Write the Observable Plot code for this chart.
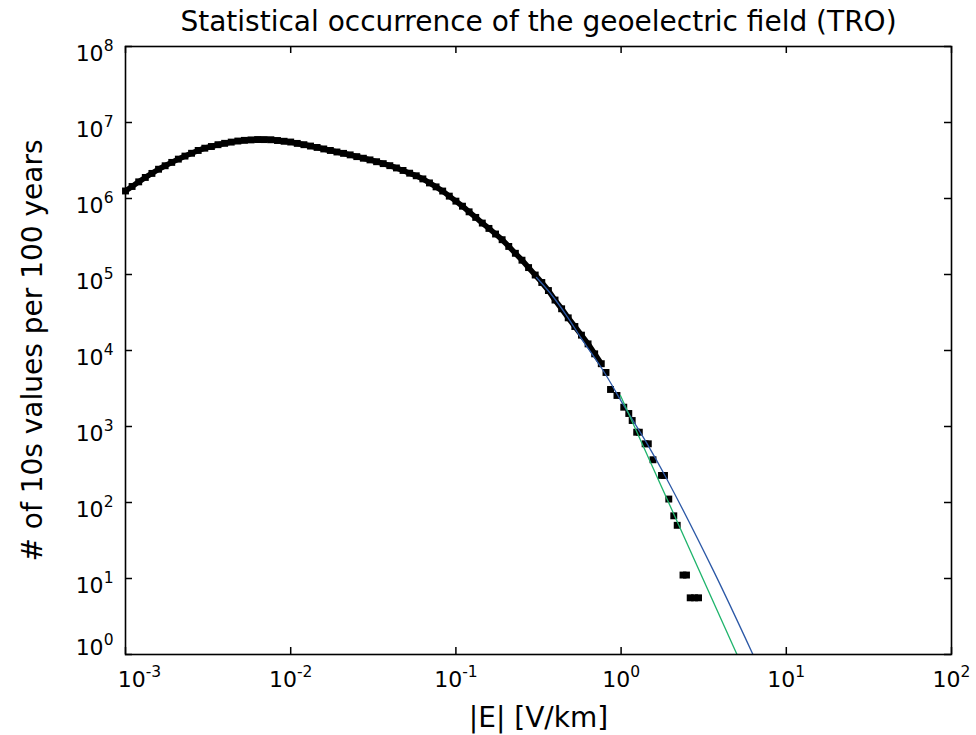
<!DOCTYPE html>
<html><head><meta charset="utf-8">
<script src="https://cdn.jsdelivr.net/npm/d3@7"></script>
<script src="https://cdn.jsdelivr.net/npm/@observablehq/plot@0.6"></script>
<style>html,body{margin:0;padding:0;background:#fff;}</style>
</head><body><div id="chart"></div>
<script>
// Histogram of |E| (V/km) -> number of 10 s values per 100 years
const E = [
  0.001, 0.001096, 0.001202, 0.001318, 0.001445, 0.001585, 0.001738, 0.001905, 0.002089, 0.002291, 0.002512, 0.002754, 0.003020, 0.003311, 0.003631, 0.003981, 0.004365, 0.004786, 0.005248, 0.005754, 0.006310, 0.006918, 0.007586, 0.008318, 0.009120,
  0.01, 0.01096, 0.01202, 0.01318, 0.01445, 0.01585, 0.01738, 0.01905, 0.02089, 0.02291, 0.02512, 0.02754, 0.03020, 0.03311, 0.03631, 0.03981, 0.04365, 0.04786, 0.05248, 0.05754, 0.06310, 0.06918, 0.07586, 0.08318, 0.09120,
  0.1, 0.1096, 0.1202, 0.1318, 0.1445, 0.1585, 0.1738, 0.1905, 0.2089, 0.2291, 0.2512, 0.2754, 0.3020, 0.3311, 0.3631, 0.3981, 0.4365, 0.4786, 0.5248, 0.5754, 0.6310, 0.6918, 0.7586,
  0.810, 0.863, 0.944, 1.038, 1.113, 1.167, 1.243, 1.289, 1.398, 1.461, 1.560, 1.756, 1.831, 1.944, 2.084, 2.186, 2.370, 2.488, 2.620, 2.782, 2.942
];
const N = [
  1.256e6, 1.439e6, 1.656e6, 1.892e6, 2.138e6, 2.427e6, 2.698e6, 2.985e6, 3.296e6, 3.614e6, 3.936e6, 4.285e6, 4.592e6, 4.831e6, 5.105e6, 5.321e6, 5.521e6, 5.702e6, 5.821e6, 5.902e6, 5.970e6, 5.957e6, 5.929e6, 5.794e6, 5.662e6,
  5.534e6, 5.309e6, 5.105e6, 4.898e6, 4.699e6, 4.487e6, 4.285e6, 4.093e6, 3.926e6, 3.750e6, 3.556e6, 3.388e6, 3.221e6, 3.048e6, 2.877e6, 2.704e6, 2.523e6, 2.339e6, 2.153e6, 1.991e6, 1.811e6, 1.603e6, 1.422e6, 1.253e6, 1.074e6,
  9.23e5, 7.92e5, 6.68e5, 5.64e5, 4.75e5, 4.04e5, 3.41e5, 2.87e5, 2.34e5, 1.901e5, 1.542e5, 1.233e5, 9.84e4, 7.85e4, 6.15e4, 4.61e4, 3.54e4, 2.69e4, 2.07e4, 1.592e4, 1.222e4, 9.04e3, 6.70e3,
  5140, 3070, 2560, 1795, 1483, 1199, 841, 841, 592, 592, 365, 227, 227, 111, 66.8, 50.1, 11.1, 11.1, 5.57, 5.57, 5.57
];
// fitted curves
const blueE = [0.3076, 0.3741, 0.4721, 0.5675, 0.7852, 1.038, 1.439, 1.884, 3.639, 6.281];
const blueN = [9.14e4, 5.62e4, 2.80e4, 1.496e4, 5290, 1890, 592, 207, 12.4, 1];
const greenE = [0.9908, 5.03];
const greenN = [2560, 1];

const xTicks = [1e-3, 1e-2, 1e-1, 1, 10, 100];
const yTicks = [1, 10, 100, 1e3, 1e4, 1e5, 1e6, 1e7, 1e8];
const title = "Statistical occurrence of the geoelectric field (TRO)";
const xLabel = "|E| [V/km]";
const yLabel = "# of 10s values per 100 years";

const points = E.map((e, i) => ({E: e, N: N[i]}));
const blue = blueE.map((e, i) => ({E: e, N: blueN[i]}));
const green = greenE.map((e, i) => ({E: e, N: greenN[i]}));

const W = 976, H = 735, mL = 125, mR = 25, mT = 46, mB = 81;
const fw = W - mL - mR, fh = H - mT - mB;
const tk = 7;
const fmt = d => "10^" + Math.round(Math.log10(d));

const chart = Plot.plot({
  width: W, height: H,
  marginLeft: mL, marginRight: mR, marginTop: mT, marginBottom: mB,
  style: {fontFamily: "DejaVu Sans", fontSize: "22px", background: "white", color: "black"},
  x: {type: "log", domain: [1e-3, 1e2], axis: null, label: null},
  y: {type: "log", domain: [1, 1e8], axis: null, label: null},
  marks: [
    // dense markers merge into a continuous band
    Plot.line(points.filter(d => d.E < 0.8), {x: "E", y: "N", stroke: "black", strokeWidth: 5.5, strokeLinecap: "butt"}),
    Plot.dot(points, {x: "E", y: "N", symbol: "square", r: 3.9, fill: "black", stroke: null}),
    Plot.line(blue, {x: "E", y: "N", stroke: "#2b58a6", strokeWidth: 1.3, curve: "catmull-rom", clip: true}),
    Plot.line(green, {x: "E", y: "N", stroke: "#1fb46c", strokeWidth: 1.3, clip: true}),
    Plot.tickY(yTicks, {y: d => d, insetRight: fw - tk, stroke: "black", strokeWidth: 1.5}),
    Plot.tickY(yTicks, {y: d => d, insetLeft: fw - tk, stroke: "black", strokeWidth: 1.5}),
    Plot.tickX(xTicks, {x: d => d, insetTop: fh - tk, stroke: "black", strokeWidth: 1.5}),
    Plot.tickX(xTicks, {x: d => d, insetBottom: fh - tk, stroke: "black", strokeWidth: 1.5}),
    Plot.frame({stroke: "black", strokeWidth: 1.6}),
    Plot.axisX(xTicks.slice(1), {tickSize: 0, tickPadding: 17, tickFormat: fmt, fontSize: 22, label: null}),
    Plot.axisX(xTicks.slice(0, 1), {tickSize: 0, tickPadding: 17, tickFormat: fmt, fontSize: 22, dx: 14, label: null}),
    Plot.axisY(yTicks.slice(1), {tickSize: 0, tickPadding: 12, tickFormat: fmt, fontSize: 22, dy: 7, label: null}),
    Plot.axisY(yTicks.slice(0, 1), {tickSize: 0, tickPadding: 12, tickFormat: fmt, fontSize: 22, dy: -7, label: null}),
    Plot.text([title], {text: d => d, frameAnchor: "top", textAnchor: "middle", lineAnchor: "middle", dy: -24, fontSize: 28}),
    Plot.text([xLabel], {text: d => d, frameAnchor: "bottom", textAnchor: "middle", lineAnchor: "middle", dy: 64, fontSize: 28}),
    Plot.text([yLabel], {text: d => d, frameAnchor: "left", textAnchor: "middle", lineAnchor: "middle", dx: -92, rotate: -90, fontSize: 28})
  ]
});

// render exponents as superscripts
const NS = "http://www.w3.org/2000/svg";
chart.querySelectorAll("text").forEach(t => {
  const m = /^10\^(-?\d+)$/.exec(t.textContent);
  if (!m) return;
  t.textContent = "10";
  const s = document.createElementNS(NS, "tspan");
  s.setAttribute("dy", "-10");
  s.setAttribute("font-size", "15.5");
  s.textContent = m[1];
  t.appendChild(s);
});
document.getElementById("chart").appendChild(chart);
</script>
</body></html>
